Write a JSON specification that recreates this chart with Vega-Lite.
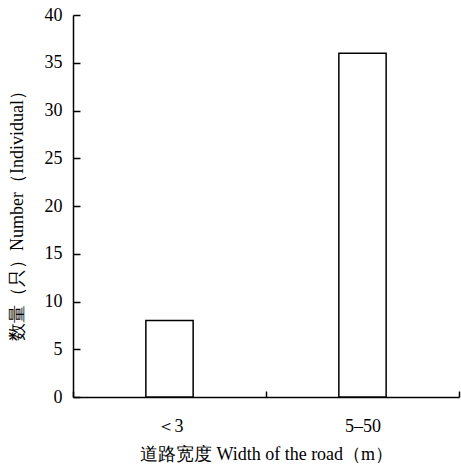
{
  "$schema": "https://vega.github.io/schema/vega-lite/v6.json",
  "width": 386,
  "height": 382,
  "autosize": {"type": "none"},
  "padding": {"left": 73, "top": 15, "right": 2, "bottom": 68},
  "background": "white",
  "config": {
    "font": "Liberation Serif, Times New Roman, serif",
    "view": {"stroke": null},
    "axis": {
      "labelFont": "Liberation Serif, Times New Roman, serif",
      "titleFont": "Liberation Serif, Times New Roman, serif",
      "labelColor": "black",
      "titleColor": "black",
      "domainColor": "black",
      "tickColor": "black",
      "domainWidth": 1.5,
      "tickWidth": 1.5,
      "grid": false,
      "labelFontSize": 18,
      "titleFontSize": 18,
      "titleFontWeight": "normal"
    }
  },
  "data": {
    "values": [
      {"width": "＜3", "count": 8},
      {"width": "5–50", "count": 36}
    ]
  },
  "mark": {"type": "bar", "fill": "white", "stroke": "black", "strokeWidth": 1.5, "width": {"band": 0.245}},
  "encoding": {
    "x": {
      "field": "width",
      "type": "nominal",
      "sort": null,
      "scale": {"paddingInner": 0, "paddingOuter": 0},
      "axis": {
        "title": "道路宽度 Width of the road（m）",
        "labelAngle": 0,
        "tickBand": "extent",
        "tickSize": -6,
        "labelPadding": 26,
        "titlePadding": 10
      }
    },
    "y": {
      "field": "count",
      "type": "quantitative",
      "scale": {"domain": [0, 40], "nice": false},
      "axis": {
        "title": "数量（只）Number（Individual）",
        "values": [0, 5, 10, 15, 20, 25, 30, 35, 40],
        "tickSize": -7,
        "labelPadding": 18,
        "titlePadding": 18,
        "titleY": 196
      }
    }
  }
}
